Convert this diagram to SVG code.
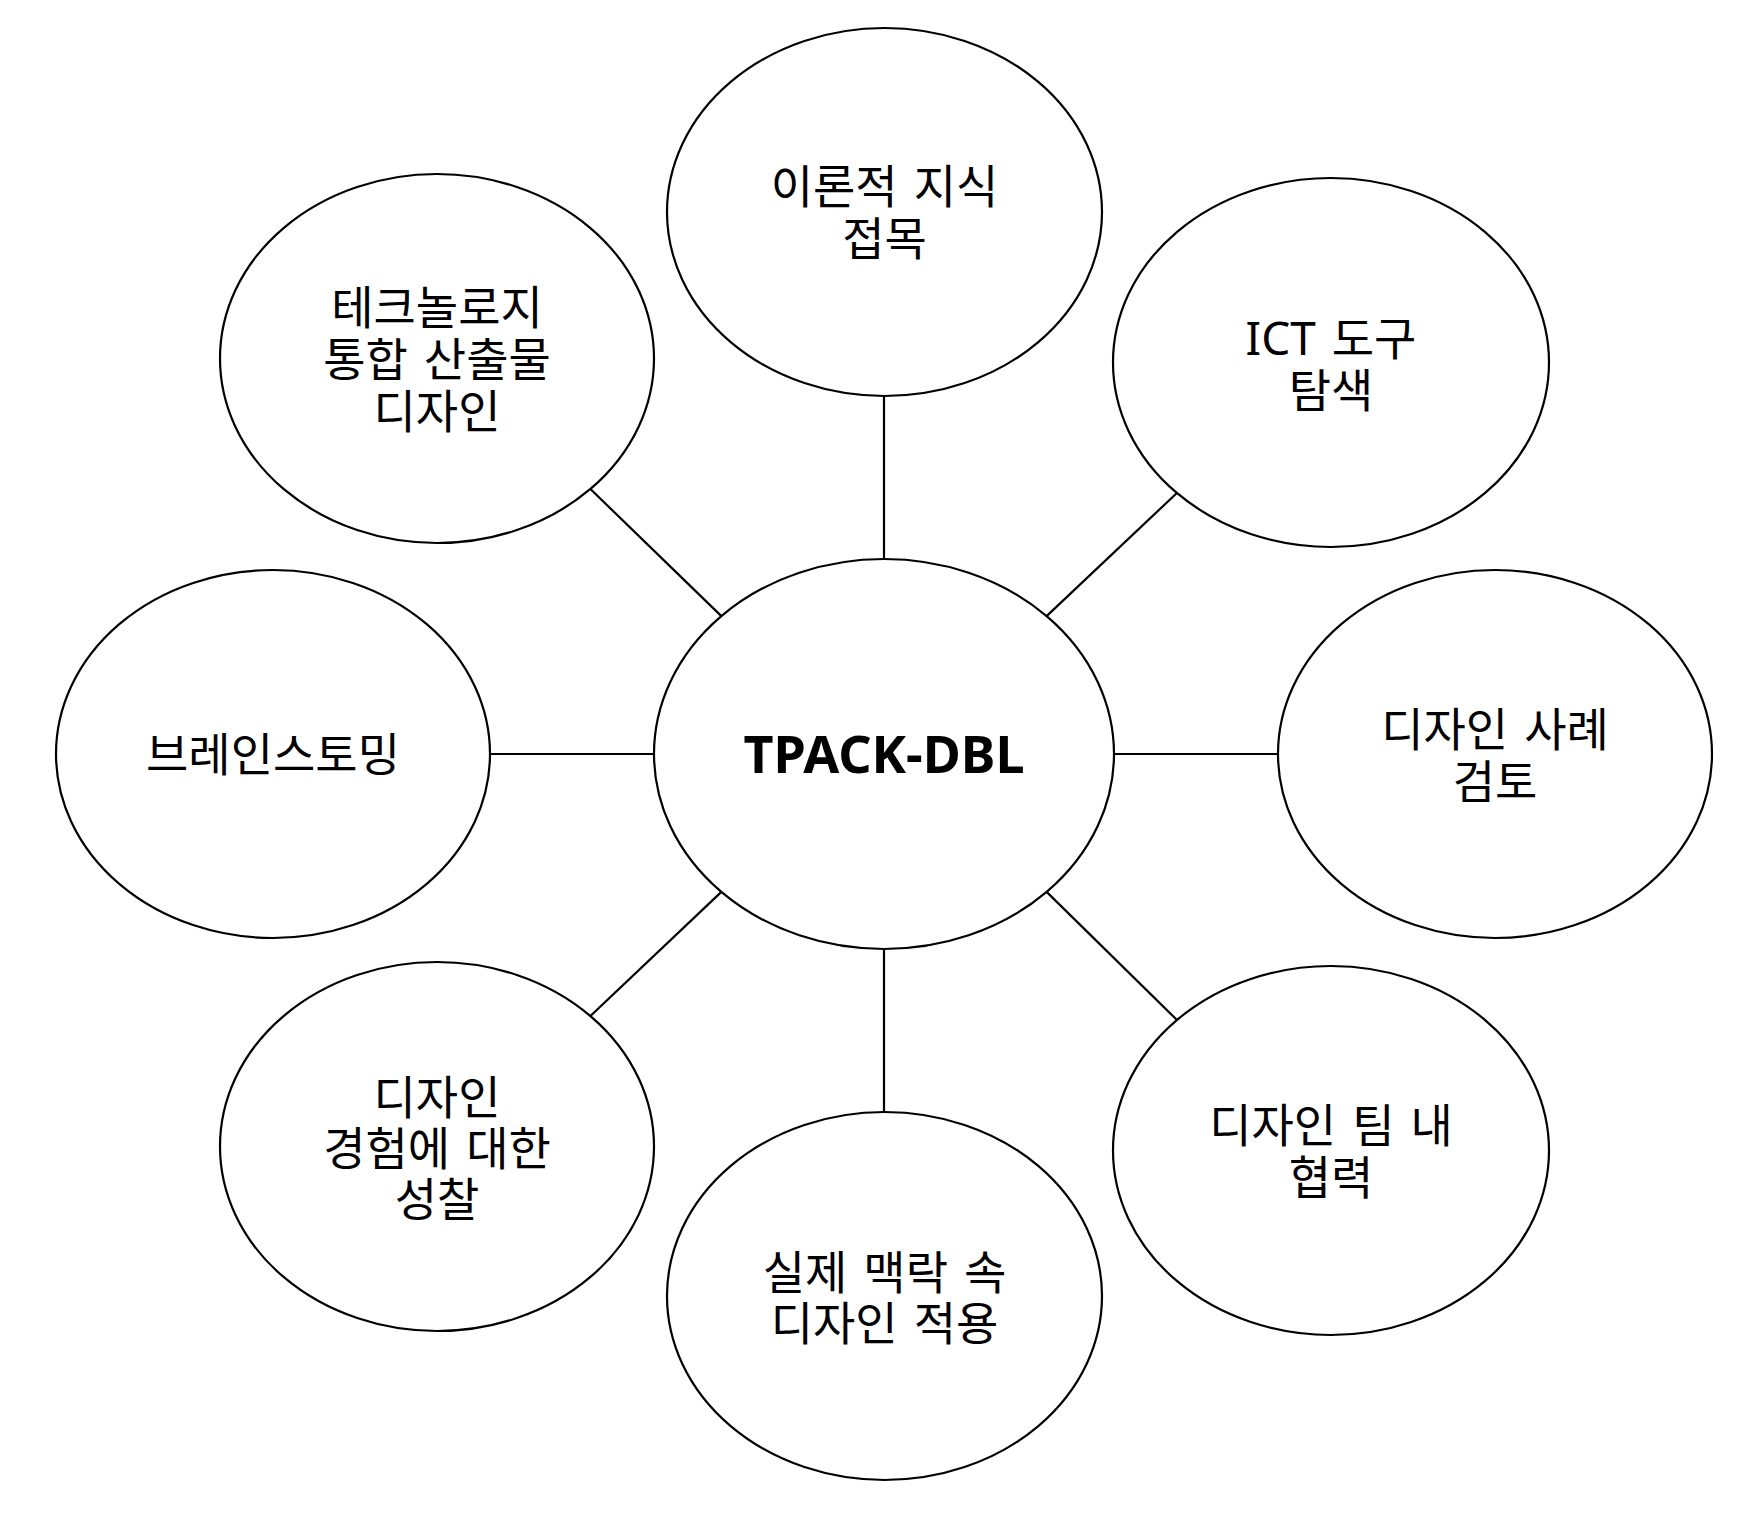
<svg xmlns="http://www.w3.org/2000/svg" width="1756" height="1519" viewBox="0 0 1756 1519">
<style>
.node ellipse{fill:#ffffff;stroke:#000000;stroke-width:2.2}
.lbl{font-family:'Noto Sans','Noto Sans CJK KR',sans-serif;font-size:46px;fill:#000000;text-anchor:middle;word-spacing:4px}
.main{font-family:'Noto Sans','Noto Sans CJK KR',sans-serif;font-size:52px;font-weight:bold;fill:#000000;text-anchor:middle}
#connectors line{stroke:#000000;stroke-width:2.2}
</style>
<rect width="1756" height="1519" fill="#ffffff"/>
<g id="connectors">
<line x1="884" y1="396" x2="884" y2="559"/>
<line x1="884" y1="949" x2="884" y2="1112"/>
<line x1="490" y1="754" x2="654" y2="754"/>
<line x1="1114" y1="754" x2="1278" y2="754"/>
<line x1="590.4" y1="489" x2="721.4" y2="616.1"/>
<line x1="1176.9" y1="493" x2="1046.6" y2="616.1"/>
<line x1="590.4" y1="1016" x2="721.4" y2="891.9"/>
<line x1="1177" y1="1020" x2="1046.6" y2="891.9"/>
</g>
<g id="node-center" class="node">
<ellipse cx="884" cy="754" rx="230" ry="195"/>
<text class="main" x="884" y="773">TPACK-DBL</text>
</g>
<g id="node-top" class="node">
<ellipse cx="884.5" cy="212" rx="217.5" ry="184"/>
<text class="lbl" x="884.5" y="202.5">이론적 지식</text>
<text class="lbl" x="884.5" y="254.5">접목</text>
</g>
<g id="node-top-left" class="node">
<ellipse cx="437" cy="358.5" rx="217" ry="184.5"/>
<text class="lbl" x="437" y="324">테크놀로지</text>
<text class="lbl" x="437" y="376">통합 산출물</text>
<text class="lbl" x="437" y="428">디자인</text>
</g>
<g id="node-top-right" class="node">
<ellipse cx="1331" cy="362.5" rx="218" ry="184.5"/>
<text class="lbl" x="1331" y="354.5">ICT 도구</text>
<text class="lbl" x="1331" y="406.5">탐색</text>
</g>
<g id="node-left" class="node">
<ellipse cx="273" cy="754" rx="217" ry="184"/>
<text class="lbl" x="273" y="770.5">브레인스토밍</text>
</g>
<g id="node-right" class="node">
<ellipse cx="1495" cy="754" rx="217" ry="184"/>
<text class="lbl" x="1495" y="746">디자인 사례</text>
<text class="lbl" x="1495" y="797.5">검토</text>
</g>
<g id="node-bottom-left" class="node">
<ellipse cx="437" cy="1146.5" rx="217" ry="184.5"/>
<text class="lbl" x="437" y="1113.5">디자인</text>
<text class="lbl" x="437" y="1164.5">경험에 대한</text>
<text class="lbl" x="437" y="1215.5">성찰</text>
</g>
<g id="node-bottom" class="node">
<ellipse cx="884.5" cy="1296" rx="217.5" ry="184"/>
<text class="lbl" x="884.5" y="1288.5">실제 맥락 속</text>
<text class="lbl" x="884.5" y="1340">디자인 적용</text>
</g>
<g id="node-bottom-right" class="node">
<ellipse cx="1331" cy="1150.5" rx="218" ry="184.5"/>
<text class="lbl" x="1331" y="1142">디자인 팀 내</text>
<text class="lbl" x="1331" y="1194">협력</text>
</g>
</svg>
